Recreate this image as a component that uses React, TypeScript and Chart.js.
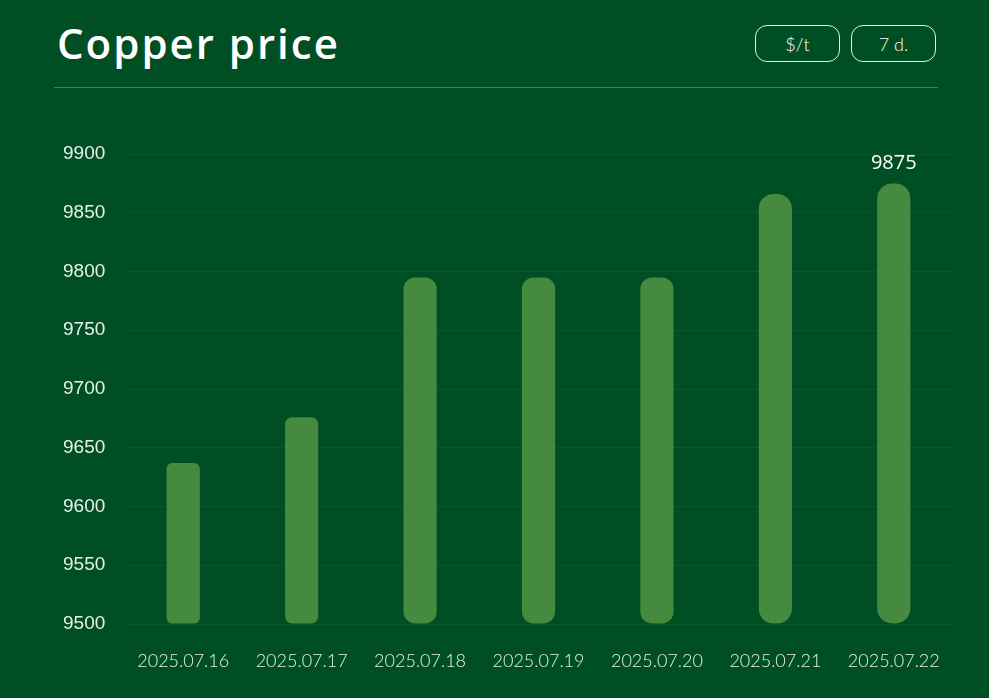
import React, { useEffect, useRef } from "react";
import { Chart, registerables } from "chart.js";

Chart.register(...registerables);

const title = "Copper price";
const unitButtons = ["$/t", "7 d."];
const categories = [
  "2025.07.16",
  "2025.07.17",
  "2025.07.18",
  "2025.07.19",
  "2025.07.20",
  "2025.07.21",
  "2025.07.22",
];
const prices = [9637, 9676, 9795, 9795, 9795, 9866, 9875];
const yMin = 9500;
const yMax = 9900;
const yStep = 50;

const BG = "#004f24";
const BAR = "#468a3f";

const valueLabelPlugin = {
  id: "valueLabel",
  afterDatasetsDraw(chart: any) {
    const meta = chart.getDatasetMeta(0);
    const last = meta.data.length - 1;
    const el = meta.data[last];
    if (!el) return;
    const ctx = chart.ctx;
    ctx.save();
    ctx.font = '20px "Open Sans"';
    ctx.fillStyle = "#ffffff";
    ctx.textAlign = "center";
    ctx.textBaseline = "bottom";
    ctx.fillText(String(prices[last]), el.x, el.y - 10);
    ctx.restore();
  },
};

export default function App() {
  const ref = useRef<HTMLCanvasElement>(null);

  useEffect(() => {
    document.body.style.margin = "0";
    const canvas = ref.current;
    if (!canvas) return;
    const chart = new Chart(canvas, {
      type: "bar",
      data: {
        labels: categories,
        datasets: [
          {
            data: prices,
            base: yMin,
            backgroundColor: BAR,
            barPercentage: 0.28,
            categoryPercentage: 1,
            borderSkipped: false,
            borderRadius: (c: any) => {
              const v = prices[c.dataIndex] ?? yMin;
              const r = Math.min(16.5, Math.max(4, (v - yMin) / 25));
              return { topLeft: r, topRight: r, bottomLeft: r, bottomRight: r };
            },
          },
        ],
      },
      options: {
        animation: false,
        responsive: false,
        devicePixelRatio: 1,
        layout: { padding: { left: 63, right: 36, top: 54, bottom: 0 } },
        plugins: {
          legend: { display: false },
          tooltip: { enabled: false },
        },
        scales: {
          x: {
            grid: { display: false },
            border: { display: false },
            ticks: {
              color: "#e8efe8",
              font: { family: "Lato", size: 18, weight: "300" },
              padding: 18,
              maxRotation: 0,
            },
            afterFit: (s: any) => {
              s.height = 74;
            },
          },
          y: {
            min: yMin,
            max: yMax,
            grid: {
              color: "rgba(255,255,255,0.05)",
              drawTicks: false,
            },
            border: { display: false },
            ticks: {
              stepSize: yStep,
              color: "#e8efe8",
              crossAlign: "far",
              font: { family: "Liberation Sans", size: 19 },
              callback: (v: any) => String(v),
            },
            afterFit: (s: any) => {
              s.width = 61;
            },
          },
        },
      },
      plugins: [valueLabelPlugin],
    });
    return () => chart.destroy();
  }, []);

  return (
    <div
      style={{
        position: "absolute",
        left: 0,
        top: 0,
        width: 989,
        height: 698,
        background: BG,
        overflow: "hidden",
      }}
    >
      <div
        style={{
          position: "absolute",
          left: 57,
          top: 13,
          fontFamily: "Open Sans",
          fontWeight: 600,
          fontSize: 42,
          letterSpacing: 2,
          lineHeight: "60px",
          color: "#ffffff",
        }}
      >
        {title}
      </div>
      {unitButtons.map((b, i) => (
        <div
          key={b}
          style={{
            position: "absolute",
            left: 755 + i * 96,
            top: 25,
            width: 85,
            height: 37,
            boxSizing: "border-box",
            border: "1px solid #e8efe8",
            borderRadius: 12,
            color: "#ffffff",
            fontFamily: "Lato",
            fontWeight: 300,
            fontSize: 18,
            display: "flex",
            alignItems: "center",
            justifyContent: "center",
          }}
        >
          {b}
        </div>
      ))}
      <div
        style={{
          position: "absolute",
          left: 54,
          top: 87,
          width: 884,
          height: 1,
          background: "#3f8a3c",
        }}
      />
      <canvas
        ref={ref}
        width={989}
        height={598}
        style={{ position: "absolute", left: 0, top: 100, width: 989, height: 598 }}
      />
    </div>
  );
}
